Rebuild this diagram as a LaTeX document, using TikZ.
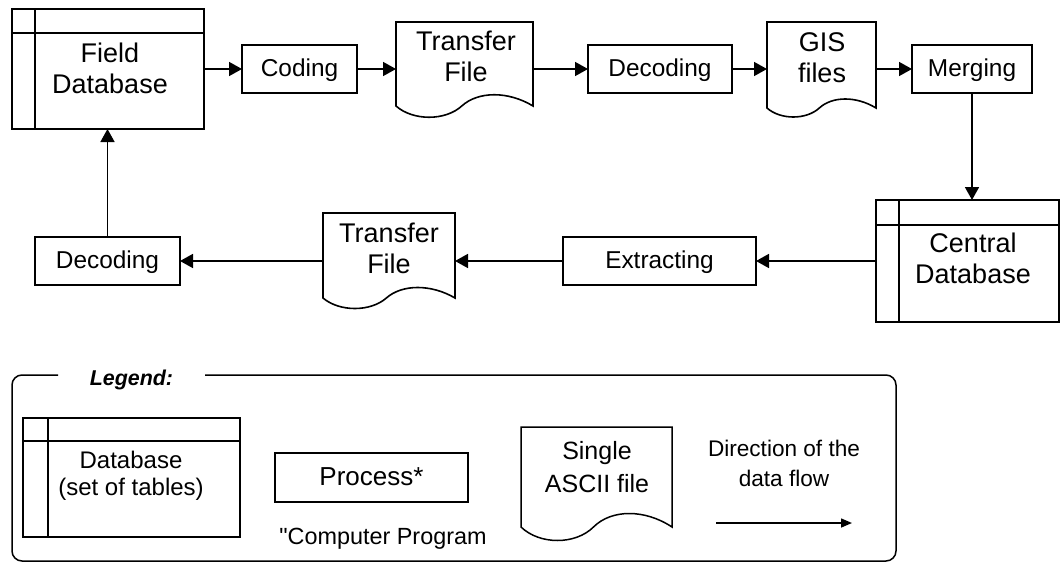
\documentclass[tikz,border=0pt]{standalone}
\usepackage{fontspec}
\setmainfont{Liberation Sans}[Ligatures=TeXOff]
\usetikzlibrary{arrows.meta}
% document (single file) outline: L, T, R, B (bottom of sides), A (wave control offset)
\newcommand\docshape[5]{\draw (#1,#4) -- (#1,#2) -- (#3,#2) -- (#3,#4)
  .. controls ({#1+0.82*(#3-#1)},{#4-#5}) and ({#1+0.6*(#3-#1)},{#4-#5}) .. ({#1+0.48*(#3-#1)},#4)
  .. controls ({#1+0.36*(#3-#1)},{#4+#5}) and ({#1+0.124*(#3-#1)},{#4+#5}) .. (#1,#4) -- cycle;}
\begin{document}
\begin{tikzpicture}[x=1pt,y=-1pt,line width=1.6pt,line join=miter,
  proc/.style={draw, rectangle, inner sep=0pt, outer sep=0pt, text height=17pt, text depth=2pt,
    font=\fontsize{24.4}{30}\selectfont},
  frame/.style={rectangle, inner sep=0pt, outer sep=0pt},
  lbl/.style={align=center, inner sep=0pt, font=\fontsize{27}{31}\selectfont},
  flow/.style={-{Triangle[length=13pt,width=14pt]}},
  ]
\useasboundingbox (0,0) rectangle (1060,562);

% ---------- main flow ----------
% Field Database
\node[frame, draw, minimum width=192pt, minimum height=120pt] (fdb) at (108,69) {};
\draw (fdb.north west) ++(23,0) -- ++(0,120);
\draw (fdb.north west) ++(0,24) -- ++(192,0);
\node[lbl] (fdbt) at (110,68) {Field\\Database};

% Coding
\node[proc, minimum width=115pt, minimum height=48pt] (cod) at (299.5,69) {Coding};

% Transfer File 1
\node[frame, minimum width=137pt, minimum height=94pt] (tf1) at (464.5,69) {};
\docshape{396}{22}{533}{106}{15}
\node[lbl] (tf1t) at (466,56) {Transfer\\File};

% Decoding 1
\node[proc, minimum width=144pt, minimum height=48pt] (dec1) at (660,69) {Decoding};

% GIS files
\node[frame, minimum width=109pt, minimum height=94pt] (gis) at (821.5,69) {};
\docshape{767}{22}{876}{108}{12}
\node[lbl] (gist) at (822,58) {GIS\\files};

% Merging
\node[proc, minimum width=120pt, minimum height=48pt] (mer) at (972,69) {Merging};

% Central Database
\node[frame, draw, minimum width=183pt, minimum height=122pt] (cdb) at (967.5,261) {};
\draw (cdb.north west) ++(23,0) -- ++(0,122);
\draw (cdb.north west) ++(0,25) -- ++(183,0);
\node[lbl] (cdbt) at (973,258.5) {Central\\Database};

% Extracting
\node[proc, minimum width=193pt, minimum height=48pt] (ext) at (659.5,261) {Extracting};

% Transfer File 2
\node[frame, minimum width=132pt, minimum height=96pt] (tf2) at (389,261) {};
\docshape{323}{213}{455}{298}{14}
\node[lbl] (tf2t) at (389,248) {Transfer\\File};

% Decoding 2
\node[proc, minimum width=145pt, minimum height=48pt] (dec2) at (107.5,261) {Decoding};

% connectors
\draw[flow] (fdb) -- (cod);
\draw[flow] (cod) -- (tf1);
\draw[flow] (tf1) -- (dec1);
\draw[flow] (dec1) -- (gis);
\draw[flow] (gis) -- (mer);
\draw[flow] (mer.south) -- (mer.south |- cdb.north);
\draw[flow] (cdb.west) -- (ext.east);
\draw[flow] (ext) -- (tf2);
\draw[flow] (tf2) -- (dec2);
\draw[flow] (dec2.north) -- (dec2.north |- fdb.south);

% ---------- legend ----------
\draw[line width=1.5pt, rounded corners=10pt] (58,375) -- (12,375) -- (12,561) -- (896,561) -- (896,375) -- (205,375);
\node[anchor=base, inner sep=0pt, font=\fontsize{21.4}{26}\selectfont\bfseries\itshape] (legt) at (131.5,385) {Legend:};

% legend database
\node[frame, draw, line width=1.5pt, minimum width=217pt, minimum height=119pt] (ldb) at (131.5,477.5) {};
\draw[line width=1.5pt] (ldb.north west) ++(25,0) -- ++(0,119);
\draw[line width=1.5pt] (ldb.north west) ++(0,23) -- ++(217,0);
\node[align=center, inner sep=0pt, font=\fontsize{24}{27}\selectfont] (ldbt) at (131,476) {Database\\(set of tables)};

% legend process
\node[proc, line width=1.5pt, minimum width=193pt, minimum height=49pt, font=\fontsize{26}{30}\selectfont] (lproc) at (371.5,477.5) {Process*};
\node[anchor=base, inner sep=0pt, font=\fontsize{23.4}{28}\selectfont] (lcp) at (383,544) {"Computer Program};

% legend single file
\node[frame, minimum width=151pt, minimum height=115pt] (lsf) at (596.5,484.5) {};
\begin{scope}[line width=1.5pt]
\docshape{521}{427}{672}{527}{18}
\end{scope}
\node[align=center, inner sep=0pt, font=\fontsize{25}{33}\selectfont] (lsft) at (597,467) {Single\\ASCII file};

% legend direction
\node[align=center, inner sep=0pt, font=\fontsize{22.6}{30}\selectfont] (ldir) at (784,463) {Direction of the\\data flow};
\coordinate (la1) at (716,523);
\coordinate (la2) at (852,523);
\draw[line width=1.5pt, -{Triangle[length=11pt,width=9pt]}] (la1) -- (la2);
\end{tikzpicture}
\end{document}
